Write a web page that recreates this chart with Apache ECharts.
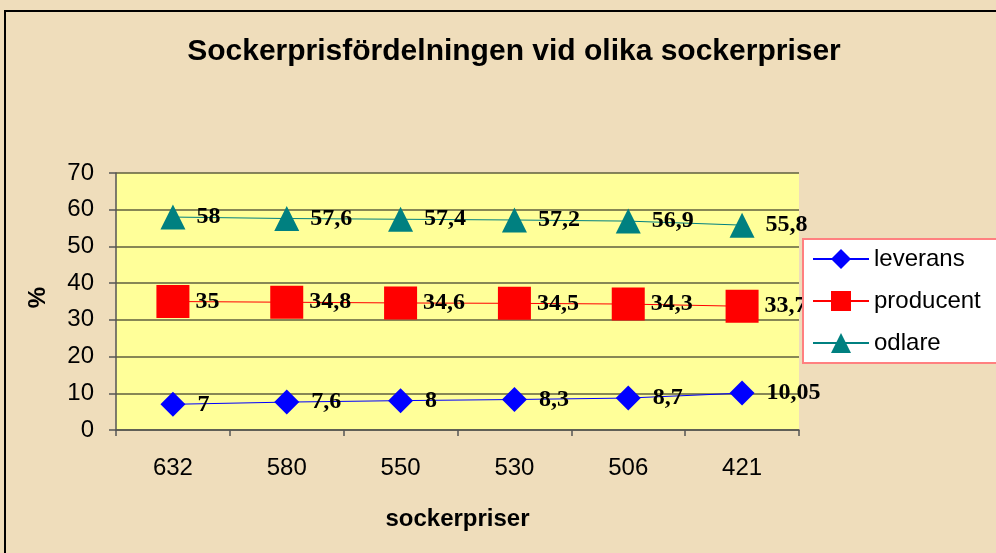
<!DOCTYPE html>
<html>
<head>
<meta charset="utf-8">
<script src="https://cdn.jsdelivr.net/npm/echarts@6/dist/echarts.min.js"></script>
<style>
  html, body { margin: 0; padding: 0; background: #EFDDBB; overflow: hidden; }
  #chart { width: 996px; height: 553px; }
</style>
</head>
<body>
<div id="chart"></div>
<script>
// sockerpriser på x-axeln
var categories = ['632', '580', '550', '530', '506', '421'];
var leverans = [7, 7.6, 8, 8.3, 8.7, 10.05];
var producent = [35, 34.8, 34.6, 34.5, 34.3, 33.7];
var odlare = [58, 57.6, 57.4, 57.2, 56.9, 55.8];
var yTicks = [0, 70, 10]; // min, max, interval

var myChart = echarts.init(document.getElementById('chart'));

// etikett med decimalkomma
function komma(p) {
  return String(p.value).replace('.', ',');
}
function labelStyle(dist) {
  return {
    show: true,
    position: 'right',
    distance: dist,
    formatter: komma,
    fontFamily: '"Liberation Serif", "Times New Roman", serif',
    fontWeight: 'bold',
    fontSize: 24,
    color: '#000'
  };
}

var option = {
  backgroundColor: '#EFDDBB',
  animation: false,
  title: {
    text: 'Sockerprisfördelningen vid olika sockerpriser',
    left: 509,
    top: 32,
    textAlign: 'center',
    textStyle: {
      fontFamily: '"Liberation Sans", Arial, sans-serif',
      fontWeight: 'bold',
      fontSize: 30,
      color: '#000'
    }
  },
  graphic: [{
    type: 'polyline',
    shape: { points: [[5, 560], [5, 11], [1000, 11]] },
    style: { fill: null, stroke: '#000', lineWidth: 2 },
    silent: true
  }],
  legend: {
    orient: 'vertical',
    left: 803,
    top: 239,
    padding: [8, 40, 8, 9],
    itemWidth: 56,
    itemHeight: 25,
    itemGap: 18,
    backgroundColor: '#fff',
    borderColor: '#FF8080',
    borderWidth: 2,
    borderRadius: 0,
    textStyle: {
      fontFamily: '"Liberation Sans", Arial, sans-serif',
      fontSize: 24,
      color: '#000'
    },
    data: ['leverans', 'producent', 'odlare']
  },
  grid: {
    left: 116,
    right: 197,
    top: 173,
    bottom: 123,
    show: true,
    backgroundColor: '#FFFF99',
    borderWidth: 0
  },
  xAxis: {
    type: 'category',
    data: categories,
    boundaryGap: true,
    name: 'sockerpriser',
    nameLocation: 'middle',
    nameGap: 77,
    nameTextStyle: {
      fontFamily: '"Liberation Sans", Arial, sans-serif',
      fontWeight: 'bold',
      fontSize: 24,
      color: '#000',
      verticalAlign: 'top'
    },
    axisLine: { lineStyle: { color: '#555', width: 1.5 } },
    axisTick: { show: true, length: 6, lineStyle: { color: '#555', width: 1.5 } },
    axisLabel: {
      margin: 26,
      fontFamily: '"Liberation Sans", Arial, sans-serif',
      fontSize: 24,
      color: '#000'
    },
    splitLine: { show: false }
  },
  yAxis: {
    type: 'value',
    min: yTicks[0],
    max: yTicks[1],
    interval: yTicks[2],
    name: '%',
    nameLocation: 'middle',
    nameGap: 66,
    nameRotate: 90,
    nameTextStyle: {
      fontFamily: '"Liberation Sans", Arial, sans-serif',
      fontWeight: 'bold',
      fontSize: 24,
      color: '#000',
      padding: [0, 0, 0, 8]
    },
    axisLine: { show: true, lineStyle: { color: '#555', width: 1.5 } },
    axisTick: { show: true, length: 7, lineStyle: { color: '#555', width: 1.5 } },
    axisLabel: {
      margin: 22,
      fontFamily: '"Liberation Sans", Arial, sans-serif',
      fontSize: 24,
      color: '#000'
    },
    splitLine: { lineStyle: { color: '#5f5f3f', width: 1.5 } }
  },
  series: [{
    name: 'leverans',
    type: 'line',
    data: leverans,
    symbol: 'diamond',
    symbolSize: 25,
    color: '#0000FF',
    lineStyle: { color: '#0000FF', width: 1 },
    itemStyle: { color: '#0000FF' },
    label: labelStyle(12)
  }, {
    name: 'producent',
    type: 'line',
    data: producent,
    symbol: 'rect',
    symbolSize: 33,
    color: '#FF0000',
    lineStyle: { color: '#FF0000', width: 1 },
    itemStyle: { color: '#FF0000' },
    label: labelStyle(6)
  }, {
    name: 'odlare',
    type: 'line',
    data: odlare,
    symbol: 'triangle',
    symbolSize: 25,
    color: '#008080',
    lineStyle: { color: '#008080', width: 1 },
    itemStyle: { color: '#008080' },
    label: labelStyle(11)
  }]
};

myChart.setOption(option);
</script>
</body>
</html>
